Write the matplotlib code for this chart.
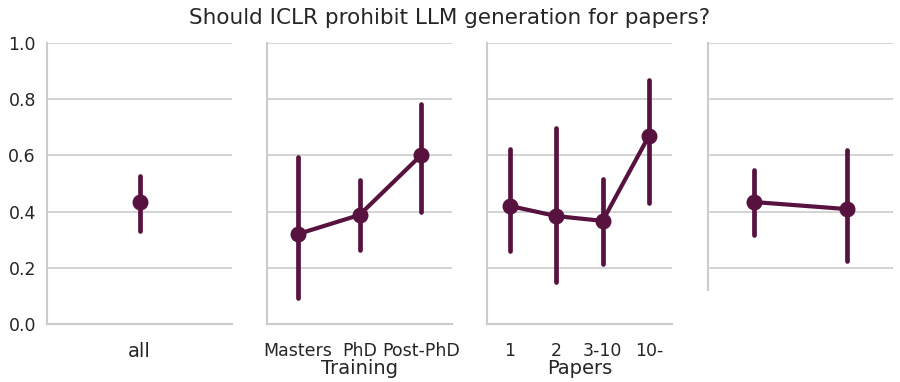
import matplotlib
matplotlib.use("Agg")
import matplotlib.pyplot as plt
import numpy as np

title = "Should ICLR prohibit LLM generation for papers?"

p1_cats = ["all"]
p1_mean = [0.434]
p1_lo = [0.331]
p1_hi = [0.527]

p2_cats = ["Masters", "PhD", "Post-PhD"]
p2_mean = [0.320, 0.388, 0.601]
p2_lo = [0.093, 0.263, 0.399]
p2_hi = [0.594, 0.512, 0.783]

p3_cats = ["1", "2", "3-10", "10-"]
p3_mean = [0.420, 0.384, 0.367, 0.669]
p3_lo = [0.260, 0.149, 0.214, 0.431]
p3_hi = [0.623, 0.698, 0.516, 0.868]

p4_cats = ["", ""]
p4_mean = [0.434, 0.409]
p4_lo = [0.317, 0.224]
p4_hi = [0.548, 0.619]

xlabels = ["", "Training", "Papers", ""]

color = "#58123f"
grid_c = "#cccccc"

plt.rcParams['font.family'] = ['DejaVu Sans']
fig = plt.figure(figsize=(9, 3.82), dpi=100)
W, H = 900, 382
lefts = [47, 267, 487, 708]
width = 185
top, bottom = 43, 324

panels = [(p1_cats, p1_mean, p1_lo, p1_hi),
          (p2_cats, p2_mean, p2_lo, p2_hi),
          (p3_cats, p3_mean, p3_lo, p3_hi),
          (p4_cats, p4_mean, p4_lo, p4_hi)]

for i, (cats, m, lo, hi) in enumerate(panels):
    ax = fig.add_axes([lefts[i] / W, 1 - bottom / H, width / W, (bottom - top) / H])
    x = np.arange(len(cats))
    ax.set_ylim(0, 1)
    ax.set_xlim(-0.5, len(cats) - 0.5)
    ax.set_yticks([0, 0.2, 0.4, 0.6, 0.8, 1.0])
    ax.yaxis.grid(True, color=grid_c, linewidth=1.2)
    ax.set_axisbelow(True)
    for xi, l, h in zip(x, lo, hi):
        ax.plot([xi, xi], [l, h], color=color, linewidth=3.4, solid_capstyle='round', zorder=3)
    ax.plot(x, m, color=color, linewidth=3.0, marker='o', markersize=10.5, zorder=4)
    ax.set_xticks(x)
    ax.set_xticklabels(cats, fontsize=12.5)
    ax.tick_params(axis='x', length=0, pad=13, labelcolor="#262626")
    ax.tick_params(axis='y', length=0, pad=8, labelcolor="#262626", labelsize=12.5)
    if i > 0:
        ax.set_yticklabels([])
    if i == 0:
        ax.tick_params(axis='x', labelsize=14, pad=13)
    ax.set_xlabel(xlabels[i], fontsize=14, color="#262626", labelpad=-1)
    for s in ['top', 'right']:
        ax.spines[s].set_visible(False)
    for s in ['left', 'bottom']:
        ax.spines[s].set_color(grid_c)
        ax.spines[s].set_linewidth(1.5)
    if i == 3:
        ax.spines['bottom'].set_visible(False)
        ax.spines['left'].set_bounds(0.12, 1.0)
        gl = ax.get_ygridlines()
        gl[0].set_visible(False)

fig.text(0.5, 1 - 18 / H, title, ha='center', va='center', fontsize=15.5, color="#262626")
fig.savefig("out.png", dpi=100)
